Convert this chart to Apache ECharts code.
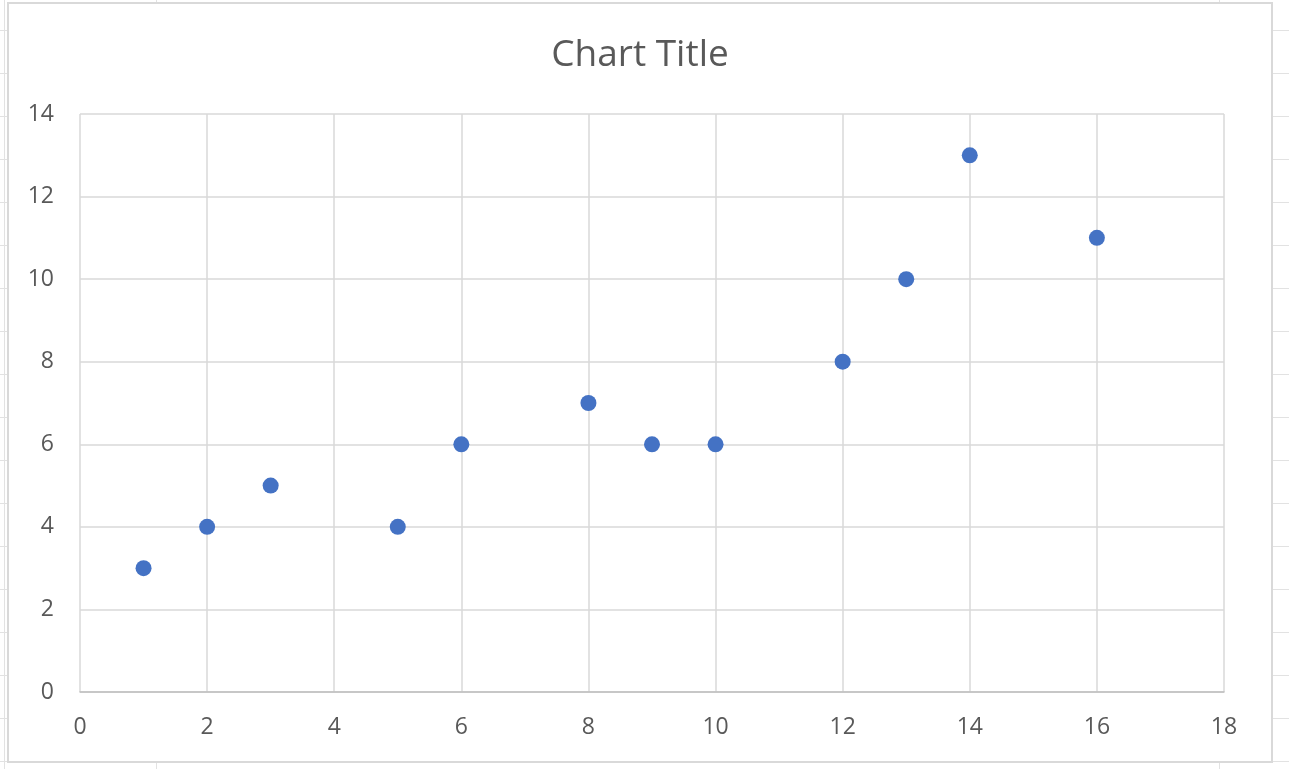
<!DOCTYPE html>
<html>
<head>
<meta charset="utf-8">
<script src="https://cdn.jsdelivr.net/npm/echarts@6/dist/echarts.min.js"></script>
<style>
  html, body { margin: 0; padding: 0; }
  body {
    width: 1289px; height: 769px; position: relative; overflow: hidden;
    background-color: #fff;
    background-image: repeating-linear-gradient(180deg,
      transparent 0, transparent 30px, #e2e2e2 30px, #e2e2e2 31px, transparent 31px, transparent 43px);
  }
  .col { position: absolute; top: 0; width: 1px; height: 769px; background: #e2e2e2; }
  #chart {
    position: absolute; left: 7px; top: 2px; width: 1266px; height: 761px;
    box-sizing: border-box; border: 2px solid #d9d9d9; background: #fff;
  }
</style>
</head>
<body>
<div class="col" style="left:4px"></div>
<div class="col" style="left:156px"></div>
<div class="col" style="left:1219px"></div>
<div id="chart"></div>
<script>
// scatter points
const xValues = [1, 2, 3, 5, 6, 8, 9, 10, 12, 13, 14, 16];
const yValues = [3, 4, 5, 4, 6, 7, 6, 6, 8, 10, 13, 11];

const points = xValues.map((x, i) => [x, yValues[i]]);

const textColor = "#595959";
const font = "'Open Sans', 'DejaVu Sans', sans-serif";

const chart = echarts.init(document.getElementById("chart"));
chart.setOption({
  animation: false,
  title: {
    text: "Chart Title",
    left: "center",
    top: 28,
    textStyle: { color: textColor, fontSize: 37, fontWeight: "normal", fontFamily: font }
  },
  grid: { left: 71, top: 110, width: 1144, height: 578, show: false },
  xAxis: {
    type: "value",
    min: 0, max: 18, interval: 2,
    axisLine: { show: true, onZero: false, lineStyle: { color: "#bfbfbf", width: 1.5 } },
    axisTick: { show: false },
    splitLine: { show: true, lineStyle: { color: "#d9d9d9", width: 1.5 } },
    axisLabel: { color: textColor, fontSize: 23, fontFamily: font, margin: 24 }
  },
  yAxis: {
    type: "value",
    min: 0, max: 14, interval: 2,
    axisLine: { show: false },
    axisTick: { show: false },
    splitLine: { show: true, lineStyle: { color: "#d9d9d9", width: 1.5 } },
    axisLabel: { color: textColor, fontSize: 23, fontFamily: font, margin: 26 }
  },
  series: [{
    type: "scatter",
    data: points,
    symbol: "circle",
    symbolSize: 16,
    itemStyle: { color: "#4472C4", opacity: 1 }
  }]
});
</script>
</body>
</html>
